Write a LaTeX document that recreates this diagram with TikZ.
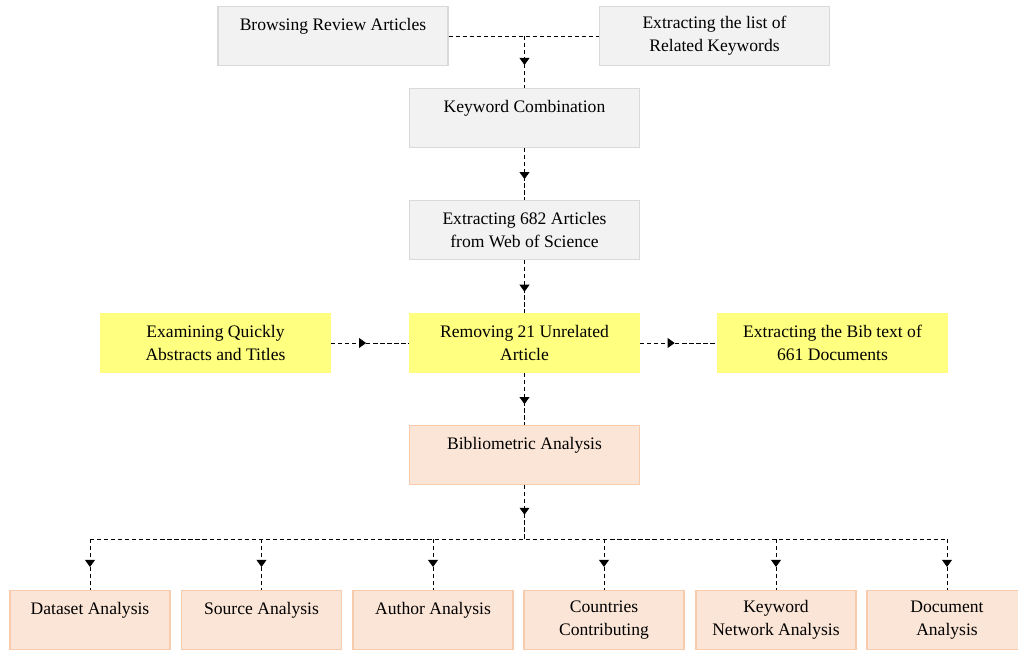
\documentclass[tikz,border=0pt]{standalone}
\usepackage{fontspec}
\setmainfont{Liberation Serif}
\usepackage{xcolor}
\usetikzlibrary{arrows.meta,decorations.markings,positioning}

\definecolor{grayfill}{HTML}{F2F2F2}
\definecolor{grayline}{HTML}{D9D9D9}
\definecolor{yellowfill}{HTML}{FFFF80}
\definecolor{peachfill}{HTML}{FBE5D6}
\definecolor{peachline}{HTML}{F8CBAD}

\begin{document}
\begin{tikzpicture}[x=0.025cm, y=-0.025cm,
          stepbox/.style={draw=grayline, line width=0.8pt, fill=grayfill, minimum width=5.75cm, minimum height=1.48cm, align=center, font=\fontsize{12.5}{16.5}\selectfont},
          hitbox/.style={stepbox, draw=yellowfill, fill=yellowfill},
          resbox/.style={stepbox, draw=peachline, fill=peachfill},
          outbox/.style={resbox, minimum width=4.0cm},
          arr/.style={dash pattern=on 3pt off 2pt, line width=0.6pt,
            postaction={decorate, decoration={markings, mark=at position #1 with {\arrow{Triangle[length=5pt,width=7pt]}}}}},
          arr/.default=0.55,
          line/.style={dash pattern=on 3pt off 2pt, line width=0.6pt}
      ]
        \useasboundingbox (0,0) rectangle (1018,651);
        % top row
        \node[stepbox] (browse) at (333,36) {Browsing Review Articles\\\mbox{}};
        \node[stepbox] (keylist) at (714.5,36) {Extracting the list of\\Related Keywords};
        \coordinate (join) at (524.5,36);
        % main column
        \node[stepbox] (combine) at (524.5,118) {Keyword Combination\\\mbox{}};
        \node[stepbox] (fetch) at (524.5,230) {Extracting 682 Articles\\from Web of Science};
        \node[hitbox] (remove) at (524.5,343) {Removing 21 Unrelated\\Article};
        \node[hitbox] (screen) at (215.5,343) {Examining Quickly\\Abstracts and Titles};
        \node[hitbox] (bibtex) at (832.5,343) {Extracting the Bib text of\\661 Documents};
        \node[resbox] (biblio) at (524.5,455) {Bibliometric Analysis\\\mbox{}};
        % analysis row
        \coordinate (split) at (524.5,539);
        \node[outbox] (dataset) at (90,620) {Dataset Analysis\\\mbox{}};
        \node[outbox] (source) at (261.5,620) {Source Analysis\\\mbox{}};
        \node[outbox] (author) at (433,620) {Author Analysis\\\mbox{}};
        \node[outbox] (country) at (604,620) {Countries\\Contributing};
        \node[outbox] (network) at (776,620) {Keyword\\Network Analysis};
        \node[outbox] (document) at (947,620) {Document\\Analysis};

        \draw[line] (browse.east) -- (keylist.west);
        \draw[arr=0.56] (join) -- (combine);
        \draw[arr=0.6] (combine) -- (fetch);
        \draw[arr=0.6] (fetch) -- (remove);
        \draw[arr=0.45] (screen) -- (remove);
        \draw[arr=0.45] (remove) -- (bibtex);
        \draw[arr=0.6] (remove) -- (biblio);
        \draw[arr] (biblio) -- (split);
        \draw[line] (split -| dataset.north) -- (split -| document.north);
        \foreach \n in {dataset,source,author,country,network,document}
          \draw[arr] (split -| \n.north) -- (\n.north);
      \end{tikzpicture}
\end{document}
